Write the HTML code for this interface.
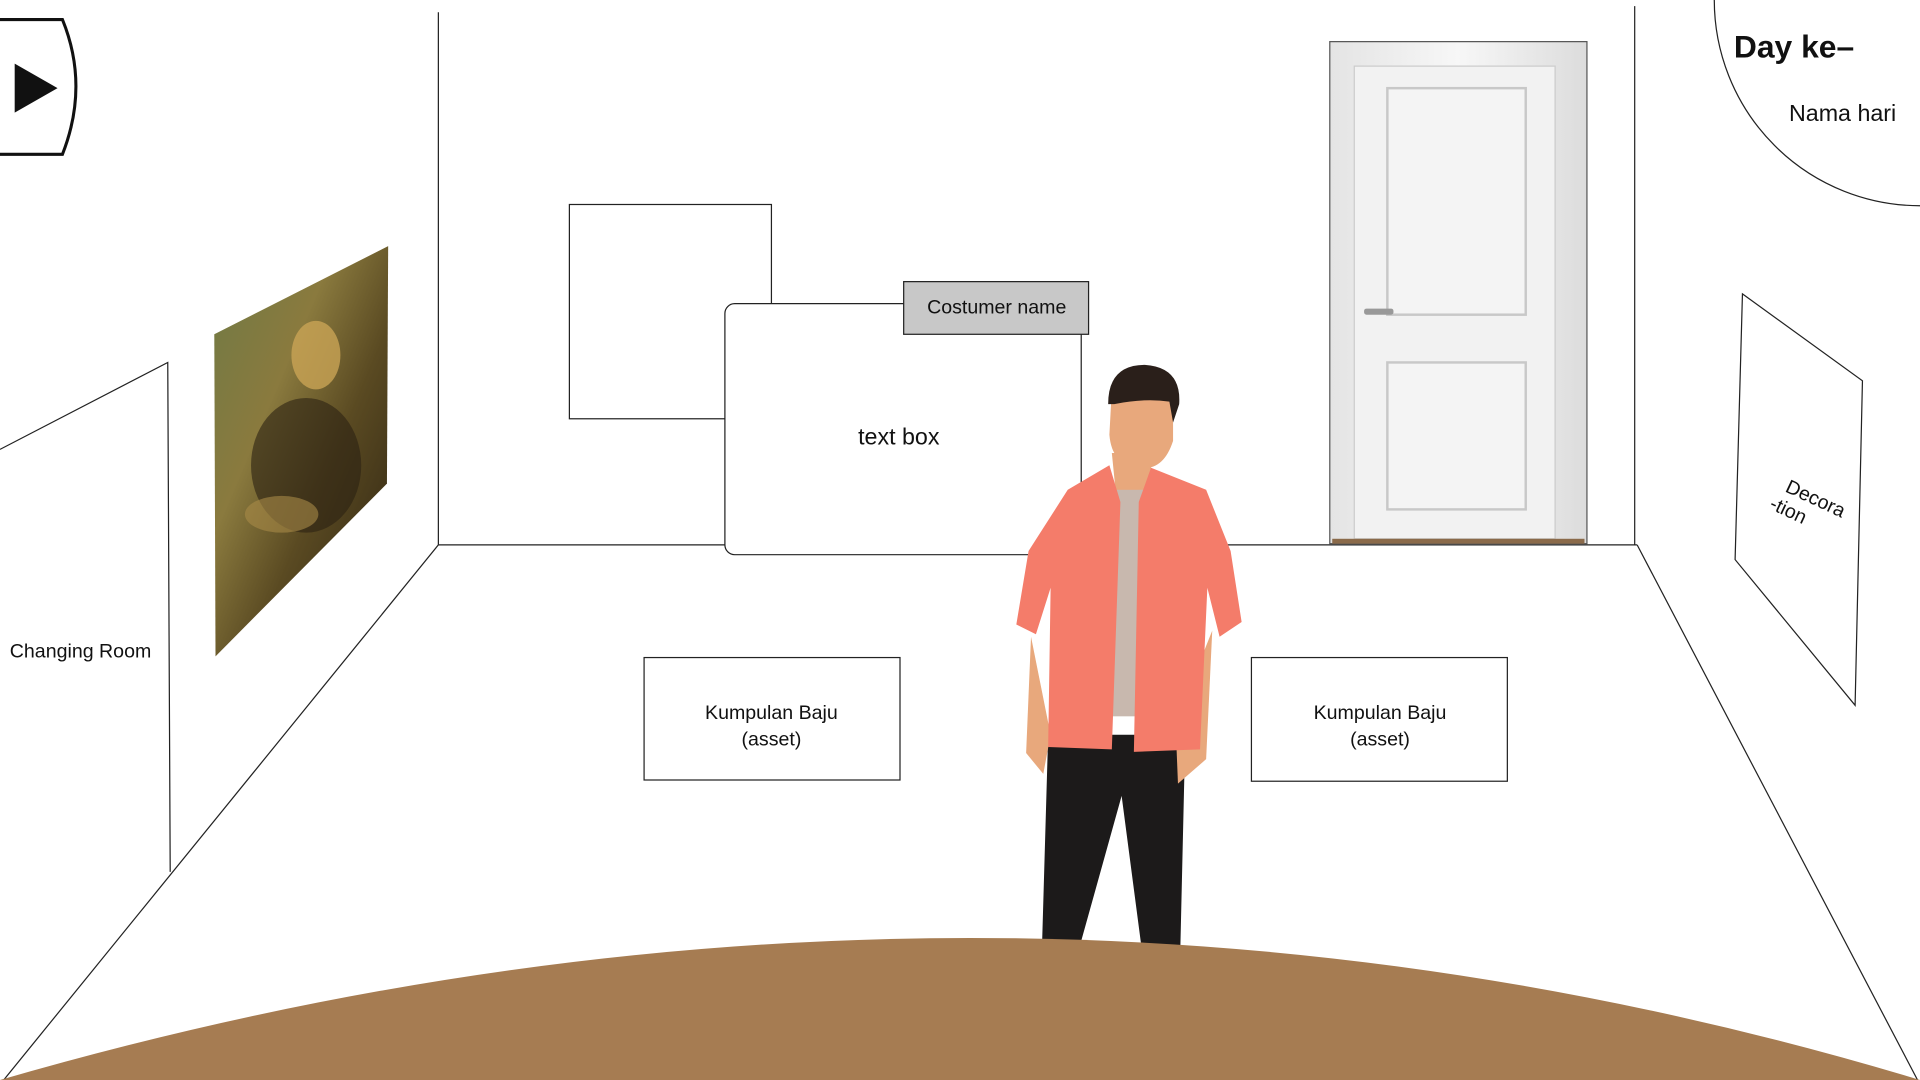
<!DOCTYPE html>
<html><head><meta charset="utf-8"><style>
html,body{margin:0;padding:0;background:#fff;width:1920px;height:1080px;overflow:hidden}
svg{display:block}
text{font-family:"Liberation Sans",sans-serif}
</style></head><body>
<svg width="1920" height="1080" viewBox="0 0 1568 882">
<defs>
<linearGradient id="mona" x1="0" y1="0" x2="1" y2="1">
<stop offset="0" stop-color="#6f7a45"/><stop offset="0.35" stop-color="#8a7a3e"/><stop offset="0.6" stop-color="#5a4a22"/><stop offset="1" stop-color="#2a2010"/></linearGradient>
<linearGradient id="door" x1="0" y1="0" x2="1" y2="0"><stop offset="0" stop-color="#e4e4e4"/><stop offset="0.5" stop-color="#f7f7f7"/><stop offset="1" stop-color="#dcdcdc"/></linearGradient>
</defs>
<g stroke="#222" stroke-width="1" fill="none">
<line x1="358" y1="10" x2="358" y2="445"/>
<line x1="358" y1="445" x2="1337" y2="445"/>
<line x1="1335" y1="5" x2="1335" y2="445"/>
<line x1="358" y1="445" x2="3" y2="882"/>
<line x1="1337" y1="445" x2="1566" y2="882"/>
<polyline points="0,367 137,296 139,712"/>
</g>
<text x="8" y="537" font-size="16" fill="#111">Changing Room</text>
<g>
<path d="M0,16 L51,16 Q73,70 51,126 L0,126" fill="#fff" stroke="#111" stroke-width="2.5"/>
<polygon points="12,52 47,72 12,92" fill="#111"/>
</g>
<g>
<polygon points="175,273 317,201 316,395 176,536" fill="url(#mona)"/>
<ellipse cx="258" cy="290" rx="20" ry="28" fill="#c9a455" opacity="0.8"/>
<ellipse cx="250" cy="380" rx="45" ry="55" fill="#2b2212" opacity="0.6"/>
<ellipse cx="230" cy="420" rx="30" ry="15" fill="#a98a48" opacity="0.6"/>
</g>
<rect x="465" y="167" width="165" height="175" fill="#fff" stroke="#222"/>
<rect x="592" y="248" width="291" height="205" rx="8" fill="#fff" stroke="#222"/>
<text x="734" y="363" font-size="19" text-anchor="middle" fill="#111">text box</text>
<rect x="738" y="230" width="151" height="43" fill="#c8c8c8" stroke="#222"/>
<text x="814" y="256" font-size="16" text-anchor="middle" fill="#111">Costumer name</text>
<g>
<rect x="1086" y="34" width="210" height="410" fill="url(#door)" stroke="#555"/>
<rect x="1106" y="54" width="164" height="386" fill="#f2f2f2" stroke="#ccc"/>
<rect x="1133" y="72" width="113" height="185" fill="#f4f4f4" stroke="#c8c8c8" stroke-width="2"/>
<rect x="1133" y="296" width="113" height="120" fill="#f4f4f4" stroke="#c8c8c8" stroke-width="2"/>
<rect x="1114" y="252" width="24" height="5" rx="2" fill="#999"/>
<rect x="1088" y="440" width="206" height="4" fill="#8a6a4a"/>
</g>
<polygon points="1423,240 1521,311 1515,576 1417,457" fill="#fff" stroke="#222"/>
<g transform="rotate(25 1475 415)">
<text x="1453" y="410" font-size="16" fill="#111">Decora</text>
<text x="1447" y="428" font-size="16" fill="#111">-tion</text>
</g>
<path d="M1400,0 A168,168 0 0 0 1568,168" fill="#fff" stroke="#222"/>
<text x="1416" y="47" font-size="26" font-weight="bold" fill="#111">Day ke–</text>
<text x="1461" y="99" font-size="19" fill="#111">Nama hari</text>
<rect x="526" y="537" width="209" height="100" fill="#fff" stroke="#222"/>
<text x="630" y="587" font-size="16" text-anchor="middle" fill="#111">Kumpulan Baju</text>
<text x="630" y="609" font-size="16" text-anchor="middle" fill="#111">(asset)</text>
<rect x="1022" y="537" width="209" height="101" fill="#fff" stroke="#222"/>
<text x="1127" y="587" font-size="16" text-anchor="middle" fill="#111">Kumpulan Baju</text>
<text x="1127" y="609" font-size="16" text-anchor="middle" fill="#111">(asset)</text>
<g>
<path d="M856,600 L968,600 L964,772 L932,772 L916,650 L882,772 L851,772 Z" fill="#1c1a1a"/>
<path d="M842,520 L838,615 L852,632 L858,600 Z" fill="#e8a87c"/>
<path d="M990,515 L985,620 L962,640 L960,590 Z" fill="#e8a87c"/>
<path d="M908,370 L940,370 L940,410 L912,410 Z" fill="#e8a87c"/>
<rect x="900" y="400" width="45" height="185" fill="#c8b8ae"/>
<path d="M906,380 L872,400 L840,450 L830,510 L846,518 L858,480 L856,610 L908,612 L915,410 Z" fill="#f47c6a"/>
<path d="M940,382 L985,400 L1005,450 L1014,508 L996,520 L986,480 L980,612 L926,614 L930,410 Z" fill="#f47c6a"/>
<path d="M908,318 Q935,300 958,320 L958,360 Q950,385 930,382 Q908,380 906,355 Z" fill="#e8a87c"/>
<path d="M905,330 Q905,298 935,298 Q965,300 963,330 L958,345 L955,328 Q935,325 910,330 Z" fill="#2a1f1a"/>
</g>
<path d="M0,882 Q800,650 1568,882 Z" fill="#a67c52"/>
</svg>
</body></html>
